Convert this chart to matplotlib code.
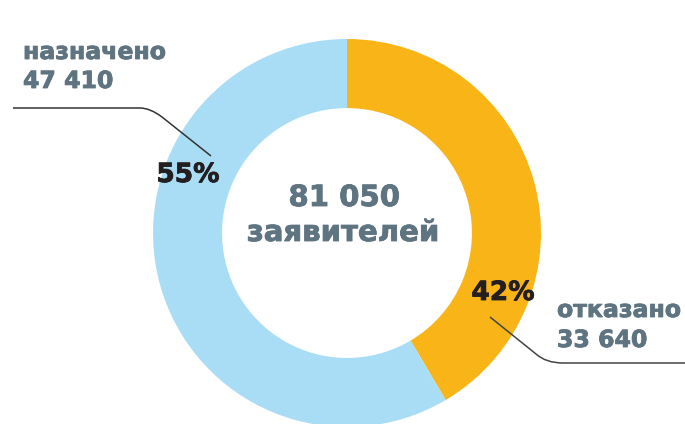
import matplotlib.pyplot as plt
import matplotlib.patheffects as pe
from matplotlib.path import Path
from matplotlib.patches import PathPatch

# data
categories = ['отказано', 'назначено']
values = [33640, 47410]
pct_labels = ['42%', '55%']
total_label = '81 050'
total_caption = 'заявителей'
colors = ['#F9B418', '#A9DDF5']

TEXT_GREY = '#5F7481'
W, H = 685, 424


def fmt(n):
    return f'{n:,}'.replace(',', ' ')


def leader(ax, pts, codes, color='#333333'):
    # pts in image pixels (y down) -> axis coords (y up)
    verts = [(x, H - y) for x, y in pts]
    ax.add_patch(PathPatch(Path(verts, codes), fill=False, lw=1.1,
                           edgecolor=color, capstyle='butt'))


def label(ax, x, y, s, color, size, ha='left'):
    # a thin stroke thickens DejaVu bold towards the heavier original face
    ax.text(x, H - y, s, ha=ha, va='center', color=color, fontsize=size,
            family='DejaVu Sans', weight='bold',
            path_effects=[pe.withStroke(linewidth=0.6, foreground=color)])


fig = plt.figure(figsize=(W / 100, H / 100), dpi=100)
ax = fig.add_axes([0, 0, 1, 1])

cx, cy, r = 347, H - 233, 194
ax.pie(values, colors=colors, startangle=90, counterclock=False,
       center=(cx, cy), radius=r,
       wedgeprops=dict(width=r * 0.356, linewidth=0))
ax.set_xlim(0, W)
ax.set_ylim(0, H)
ax.set_aspect('equal')
ax.axis('off')

# centre text
label(ax, cx - 3, 198, total_label, TEXT_GREY, 21, ha='center')
label(ax, cx - 4, 233, total_caption, TEXT_GREY, 21, ha='center')

# percentages
label(ax, 188, 175, pct_labels[1], '#231F20', 19, ha='center')
label(ax, 503, 293, pct_labels[0], '#231F20', 19, ha='center')

# category labels
label(ax, 23, 52, categories[1], TEXT_GREY, 17)
label(ax, 23, 81, fmt(values[1]), TEXT_GREY, 17)
label(ax, 557, 310, categories[0], TEXT_GREY, 17)
label(ax, 557, 340, fmt(values[0]), TEXT_GREY, 17)

# leader lines
leader(ax, [(13, 108), (140, 108), (150, 108), (162, 117), (211, 156)],
       [Path.MOVETO, Path.LINETO, Path.CURVE3, Path.CURVE3, Path.LINETO])
leader(ax, [(490, 317), (536, 354), (546, 363), (563, 363), (685, 363)],
       [Path.MOVETO, Path.LINETO, Path.CURVE3, Path.CURVE3, Path.LINETO],
       color='#444444')

fig.savefig('out.png', dpi=100)
